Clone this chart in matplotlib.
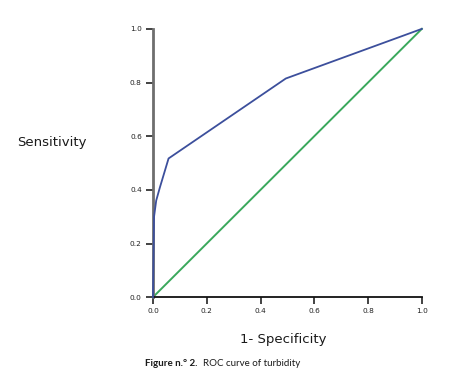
import matplotlib
matplotlib.use('Agg')
import matplotlib.pyplot as plt

# ROC curve points
fpr = [0.0, 0.004, 0.012, 0.026, 0.058, 0.494, 1.0]
tpr = [0.0, 0.30, 0.36, 0.41, 0.517, 0.815, 1.0]
ref_x = [0.0, 1.0]
ref_y = [0.0, 1.0]
ticks = [0.0, 0.2, 0.4, 0.6, 0.8, 1.0]
tick_labels = ['0.0', '0.2', '0.4', '0.6', '0.8', '1.0']

plt.rcParams['font.family'] = ['DejaVu Sans']

fig = plt.figure(figsize=(4.58, 3.80), dpi=100)
ax = fig.add_axes([0.334, 0.218, 0.587, 0.706])

ax.plot(ref_x, ref_y, color='#3aa85c', linewidth=1.4, clip_on=False, zorder=2)
ax.plot(fpr, tpr, color='#3c4f9c', linewidth=1.3, clip_on=False, zorder=3)

ax.set_xlim(0, 1)
ax.set_ylim(0, 1)
ax.set_xticks(ticks)
ax.set_xticklabels(tick_labels)
ax.set_yticks(ticks)
ax.set_yticklabels(tick_labels)
ax.tick_params(axis='both', direction='out', length=5, width=1.2, labelsize=5.3, colors='#222222', pad=3)

for side in ['top', 'right']:
    ax.spines[side].set_visible(False)
ax.spines['left'].set_color('#6e6e6e')
ax.spines['left'].set_linewidth(2.0)
ax.spines['bottom'].set_color('#111111')
ax.spines['bottom'].set_linewidth(1.3)

fig.text(17 / 458, 1 - 142 / 380, 'Sensitivity', fontsize=9.5, ha='left', va='center', color='#1a1a1a')
fig.text(283 / 458, 1 - 340 / 380, '1- Specificity', fontsize=9.5, ha='center', va='center', color='#1a1a1a')

cap_y = 1 - 364 / 380
cap_font = ['Lato', 'DejaVu Sans']
t1 = fig.text(145 / 458, cap_y, 'Figure n.° 2.', fontsize=7, fontweight='bold', ha='left', va='center',
              family=cap_font, color='#1a1a1a')
ax.annotate('ROC curve of turbidity', xy=(1, 0.5), xycoords=t1, xytext=(4, 0), textcoords='offset points',
            fontsize=7, ha='left', va='center', family=cap_font, color='#1a1a1a')

fig.savefig('out.png', dpi=100)
